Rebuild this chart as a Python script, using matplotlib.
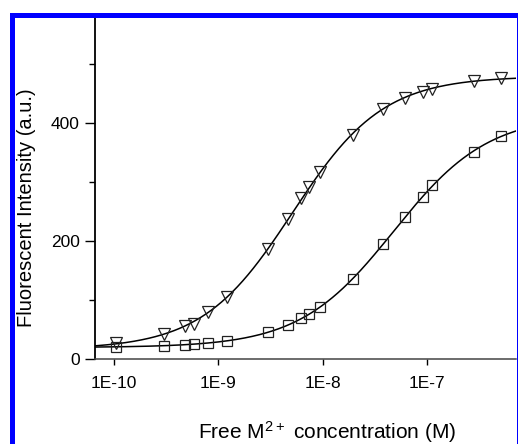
import numpy as np
import matplotlib
matplotlib.use("Agg")
from matplotlib import pyplot as plt
from matplotlib.patches import Rectangle
from matplotlib.ticker import FixedLocator, FuncFormatter

plt.rcParams['font.family'] = ['Liberation Sans', 'DejaVu Sans']
plt.rcParams['mathtext.fontset'] = 'custom'
plt.rcParams['mathtext.rm'] = 'Liberation Sans'
plt.rcParams['mathtext.default'] = 'rm'

# free metal concentration (M), same titration points for both series
conc = [1.06e-10, 3.0e-10, 4.85e-10, 5.8e-10, 7.9e-10, 1.22e-9, 3.0e-9, 4.7e-9,
        6.2e-9, 7.4e-9, 9.4e-9, 1.95e-8, 3.8e-8, 6.1e-8, 9.1e-8, 1.11e-7,
        2.8e-7, 5.06e-7]
# triangles (upper curve)
tri_vals = [27, 42, 56, 60, 80, 105, 186, 237, 273, 291, 316, 380, 424, 442,
            453, 458, 471, 476]
# squares (lower curve)
sq_vals = [20, 22.5, 23.5, 25, 27, 31, 45, 57, 70, 77, 88, 136, 195, 240,
           275, 294, 351, 377]

xticks = [1e-10, 1e-9, 1e-8, 1e-7]
xtick_labels = ["1E-10", "1E-9", "1E-8", "1E-7"]


def hill_fit(x, y):
    # grid search on log Kd and n, linear least squares for baseline/amplitude
    x = np.asarray(x)
    y = np.asarray(y, dtype=float)
    best = None
    for lk in np.arange(-10.0, -5.5, 0.01):
        for n in np.arange(0.3, 2.5, 0.02):
            s = 1.0 / (1.0 + (10**lk / x) ** n)
            A = np.vstack([np.ones_like(s), s]).T
            coef = np.linalg.lstsq(A, y, rcond=None)[0]
            err = np.sum((A @ coef - y) ** 2)
            if best is None or err < best[0]:
                best = (err, lk, n, coef)
    _, lk, n, coef = best
    return lambda xx: coef[0] + coef[1] / (1.0 + (10**lk / xx) ** n)


fig = plt.figure(figsize=(5.18, 4.44), dpi=100)
ax = fig.add_axes([95 / 518, 85 / 444, 421 / 518, 343 / 444])

xmin, xmax = 10**-10.18, 10**-6.15
ax.set_xscale('log')
ax.set_xlim(xmin, xmax)
ax.set_ylim(0, 581)

xx = np.logspace(np.log10(xmin), np.log10(xmax), 400)
f_tri = hill_fit(conc, tri_vals)
f_sq = hill_fit(conc, sq_vals)
ax.plot(xx, f_tri(xx), color='black', lw=1.1, zorder=2)
ax.plot(xx, f_sq(xx), color='black', lw=1.1, zorder=2)
ax.plot(conc, tri_vals, linestyle='none', marker='v', markersize=8,
        markerfacecolor='none', markeredgecolor='#222222', markeredgewidth=0.9, zorder=3)
ax.plot(conc, sq_vals, linestyle='none', marker='s', markersize=6.5,
        markerfacecolor='none', markeredgecolor='#222222', markeredgewidth=0.9, zorder=3)

ax.spines['top'].set_visible(False)
ax.spines['right'].set_visible(False)
ax.spines['left'].set_linewidth(1.3)
ax.spines['bottom'].set_linewidth(1.1)
ax.spines['bottom'].set_color('#444444')

ax.xaxis.set_major_locator(FixedLocator(xticks))
ax.xaxis.set_major_formatter(FuncFormatter(lambda v, p: xtick_labels[xticks.index(v)] if v in xticks else ""))
ax.xaxis.set_minor_locator(FixedLocator([]))
ax.set_yticks([0, 200, 400])
ax.set_yticks([100, 300, 500], minor=True)
ax.tick_params(axis='x', which='major', direction='out', length=4, width=1, pad=8, labelsize=12.5)
ax.tick_params(axis='y', which='major', direction='out', length=7, width=1, pad=4, labelsize=12.5)
ax.tick_params(axis='y', which='minor', direction='out', length=4, width=1)

fig.text(26.5 / 518, 1 - 208 / 444, "Fluorescent Intensity (a.u.)", rotation=90,
         ha='center', va='center', fontsize=14.5)
fig.text(327 / 518, 1 - 439 / 444, "Free M$^{2+}$ concentration (M)",
         ha='center', va='baseline', fontsize=15)

# blue frame around the figure (cropped on right/bottom)
fig.patches.append(Rectangle((11.5, -5.5), 507, 435, transform=None, fill=False,
                             edgecolor='#0000ff', linewidth=3.6, zorder=10))

fig.savefig("out.png", dpi=100)
